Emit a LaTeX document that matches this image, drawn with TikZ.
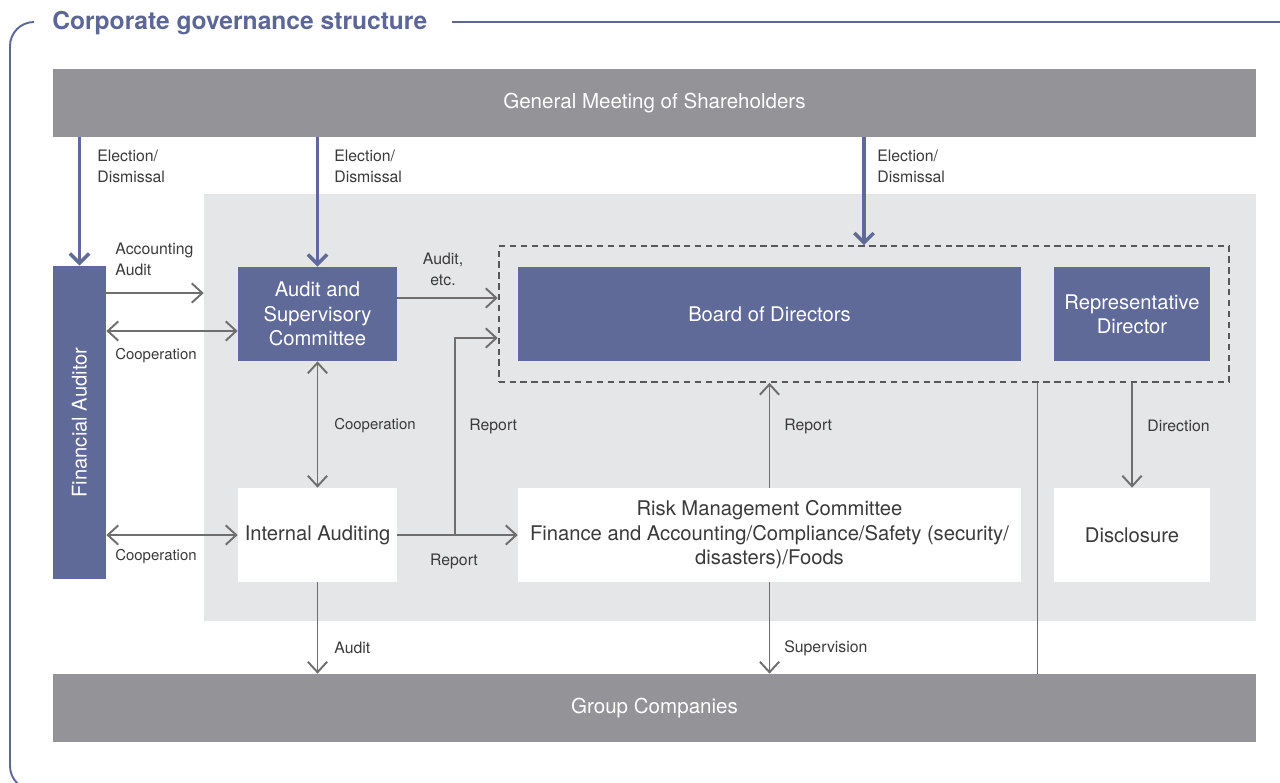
\documentclass[tikz,border=0pt]{standalone}
\usepackage{fontspec}
\setmainfont{TeX Gyre Heros}
\usepackage{xcolor}
\usepackage{tikz}
\usetikzlibrary{arrows.meta, positioning, fit, calc}

\definecolor{govblue}{HTML}{606A99}
\definecolor{bargray}{HTML}{939398}
\definecolor{panelgray}{HTML}{E5E6E8}
\definecolor{linegray}{HTML}{6E6E6E}
\definecolor{textgray}{HTML}{3A3A3A}
\definecolor{titleblue}{HTML}{5C6797}

\tikzset{
  bar/.style={fill=bargray, text=white, minimum width=24.06cm, minimum height=1.36cm,
    inner sep=0pt, font=\fontsize{11.7}{14}\selectfont},
  organ/.style={fill=govblue, text=white, align=center, minimum height=1.88cm,
    inner sep=0pt, font=\fontsize{11.5}{13.9}\selectfont},
  office/.style={fill=white, text=textgray, align=center, minimum height=1.88cm,
    inner sep=0pt, font=\fontsize{11.5}{13.9}\selectfont},
  lbl/.style={text=textgray, align=left, inner sep=0pt, font=\fontsize{9}{11.9}\selectfont},
  small/.style={lbl, font=\fontsize{8.5}{11}\selectfont},
  flow/.style={draw=linegray, line width=1.1pt, -{Straight Barb[length=6pt,width=11pt]}},
  both/.style={flow, {Straight Barb[length=6pt,width=11pt]}-{Straight Barb[length=6pt,width=11pt]}},
  elect/.style={draw=govblue, line width=2pt, -{Straight Barb[length=5.5pt,width=11pt]}},
  frame/.style={draw=titleblue, line width=1.1pt},
}

\begin{document}
\begin{tikzpicture}[x=0.02cm, y=-0.02cm]

\useasboundingbox (0,0) rectangle (1280,782);

% Outer frame and title
\draw[frame, rounded corners=0.48cm] (34,22) -- (10,22) -- (10,790) -- (40,790);
\draw[frame] (452,22) -- (1280,22);
\node[anchor=west, inner sep=0pt, text=titleblue, font=\fontsize{14}{16}\selectfont\bfseries]
  (title) at (52,23) {Corporate governance structure};

% Shaded area of the company
\node[fill=panelgray, minimum width=21.04cm, minimum height=8.54cm, inner sep=0pt]
  (panel) at (730,407.5) {};

% Top and bottom bars
\node[bar] (gms) at (654.5,103) {General Meeting of Shareholders};
\node[bar] (grp) at (654.5,708) {Group Companies};

% Boxes
\node[organ, minimum width=1.06cm, minimum height=6.26cm] (fa) at (79.5,422.5) {};
\node[rotate=90, text=white, font=\fontsize{11.5}{13.9}\selectfont] (fatext) at (fa) {Financial Auditor};
\node[organ, minimum width=3.18cm] (asc) at (317.5,314) {Audit and\\Supervisory\\Committee};
\node[organ, minimum width=10.06cm] (bod) at (769.5,314) {Board of Directors};
\node[organ, minimum width=3.12cm] (rep) at (1132,314) {Representative\\Director};
\node[office, minimum width=3.18cm] (ia) at (317.5,535) {Internal Auditing};
\node[office, minimum width=10.06cm] (rmc) at (769.5,535)
  {Risk Management Committee\\Finance and Accounting/Compliance/Safety (security/\\disasters)/Foods};
\node[office, minimum width=3.12cm] (dis) at (1132,535) {Disclosure};

% Dashed group round the board
\node[draw=textgray!85, dashed, dash pattern=on 3.6pt off 2.6pt, line width=1.1pt,
  fit=(bod)(rep), inner xsep=0.38cm, inner ysep=0.41cm] (board) {};

% Election / dismissal
\draw[elect] (gms.south -| fa.north) -- (fa.north);
\draw[elect] (gms.south -| asc.north) -- (asc.north);
\draw[elect] (gms.south -| board.north) -- (board.north);
\node[lbl, anchor=west] (el1) at (97,166) {Election/\\Dismissal};
\node[lbl, anchor=west] (el2) at (334,166) {Election/\\Dismissal};
\node[lbl, anchor=west] (el3) at (877,166) {Election/\\Dismissal};

% Financial auditor links
\coordinate (accY) at ([yshift=0.42cm]asc.west);
\coordinate (coY) at ([yshift=-0.34cm]asc.west);
\draw[flow] (fa.east |- accY) -- (panel.west |- accY);
\draw[both] (fa.east |- coY) -- (coY);
\draw[both] (fa.east |- ia.west) -- (ia.west);
\node[lbl, anchor=west] (acc) at (115,259) {Accounting\\Audit};
\node[small, anchor=west] (co1) at (115,356) {Cooperation};
\node[small, anchor=west] (co2) at (115,557) {Cooperation};

% Audit committee and internal auditing
\coordinate (auY) at ([yshift=0.32cm]asc.east);
\coordinate (rpY) at ([yshift=-0.48cm]asc.east);
\draw[flow] (auY) -- (auY -| board.west);
\node[lbl, align=center] (auetc) at (443,269) {Audit,\\etc.};
\draw[both] (asc.south) -- (ia.north);
\node[small, anchor=west] (co3) at (334,426) {Cooperation};

% Reports from internal auditing
\coordinate (brk) at ($(ia.east)!0.48!(rmc.west)$);
\draw[flow] (ia.east) -- (rmc.west);
\draw[flow] (brk) |- (rpY -| board.west);
\node[lbl] (rp1) at (454,561) {Report};
\node[lbl, anchor=west] (rp2) at (469,426) {Report};

% Risk management
\draw[flow] (rmc.north) -- (rmc.north |- board.south);
\node[lbl, anchor=west] (rp3) at (784,426) {Report};
\draw[flow] (rmc.south) -- (rmc.south |- grp.north);
\node[lbl, anchor=west] (sup) at (784,648) {Supervision};
\draw[flow] (ia.south) -- (ia.south |- grp.north);
\node[lbl, anchor=west] (aud) at (334,648) {Audit};

% Direction and line to group companies
\draw[flow] (dis.north |- board.south) -- (dis.north);
\node[lbl, anchor=west] (dir) at (1147,426) {Direction};
\coordinate (gap) at ($(bod.east)!0.5!(rep.west)$);
\draw[draw=linegray, line width=1.1pt] (gap |- board.south) -- (gap |- grp.north);

\end{tikzpicture}
\end{document}
